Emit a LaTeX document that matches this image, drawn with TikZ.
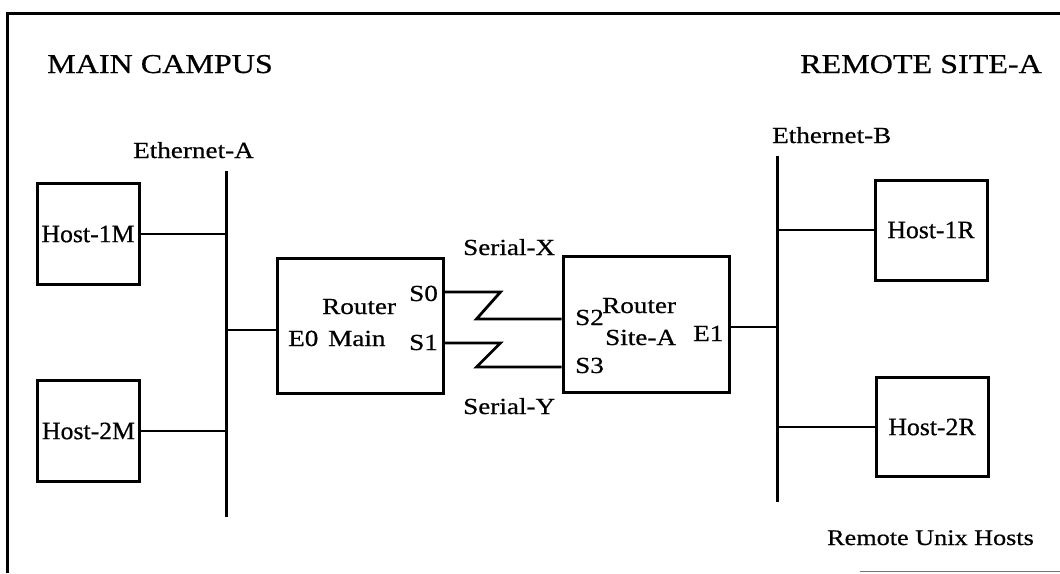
\documentclass[tikz,border=0pt]{standalone}
\usepackage{fontspec}
\setmainfont{Liberation Serif}[FakeStretch=1.18, FakeBold=0.6]
\newfontfamily\hostfont{Liberation Serif}[FakeStretch=1.03, FakeBold=0.6]
\begin{document}
\begin{tikzpicture}[x=1pt,y=-1pt,
  box/.style={draw, line width=3pt, inner sep=0pt},
  hostbox/.style={box, minimum width=102pt, minimum height=101pt, font=\hostfont\fontsize{25}{30}\selectfont},
  rbox/.style={box, minimum width=166pt, minimum height=135pt},
  bus/.style={line width=3pt},
  link/.style={line width=2.8pt},
  lbl/.style={inner sep=0pt, anchor=base west, font=\fontsize{23}{27}\selectfont},
  title/.style={inner sep=0pt, anchor=base west, font=\fontsize{27.2}{32}\selectfont},
  frame/.style={line width=3pt}]
\useasboundingbox (0,0) rectangle (1060,573);
% frame
\draw[frame] (7,573) -- (7,13) -- (1060,13);
\draw[line width=1.5pt, black!55] (860,571.5) -- (1060,571.5);
% titles
\node[title] (tmain) at (47,73) {MAIN CAMPUS};
\node[title] (tremote) at (800,73) {REMOTE SITE-A};
\node[lbl, font=\fontsize{22.2}{26}\selectfont] (tunix) at (827,545) {Remote Unix Hosts};
% ethernet buses
\coordinate (ethAtop) at (226,171);
\coordinate (ethAbot) at (226,517);
\coordinate (ethBtop) at (777,156);
\coordinate (ethBbot) at (777,502);
\draw[bus] (ethAtop) -- (ethAbot);
\draw[bus] (ethBtop) -- (ethBbot);
\node[lbl] (lethA) at (133,158) {Ethernet-A};
\node[lbl] (lethB) at (772,143) {Ethernet-B};
% hosts
\node[hostbox] (h1m) at (88,234) {Host-1M};
\node[hostbox] (h2m) at (88.5,431) {Host-2M};
\node[hostbox, minimum width=112pt, minimum height=100pt] (h1r) at (931,230) {Host-1R};
\node[hostbox, minimum width=112pt, minimum height=99pt] (h2r) at (932,427) {Host-2R};
\draw[link] (h1m.east) -- (h1m.east -| ethAtop);
\draw[link] (h2m.east) -- (h2m.east -| ethAtop);
\draw[link] (h1r.west) -- (h1r.west -| ethBtop);
\draw[link] (h2r.west) -- (h2r.west -| ethBtop);
% routers
\node[rbox] (rmain) at (360,325.5) {};
\node[rbox, minimum height=136pt] (rsite) at (646,324) {};
\draw[link] ([yshift=-4.5pt]rmain.west) -- ([yshift=-4.5pt]rmain.west -| ethAtop);
\draw[link] ([yshift=-3pt]rsite.east) -- ([yshift=-3pt]rsite.east -| ethBtop);
% serial links
\draw[link] ([yshift=33.5pt]rmain.east) -- ++(56,0) -- ++(-24,27) -- ([yshift=5pt]rsite.west);
\draw[link] ([yshift=-17.5pt]rmain.east) -- ++(56,0) -- ++(-24,24) -- ([yshift=-43pt]rsite.west);
\node[lbl] (lserx) at (463,255) {Serial-X};
\node[lbl] (lsery) at (463,414) {Serial-Y};
% router labels
\node[lbl] (lrm1) at (322,314) {Router};
\node[lbl] (lrm2) at (328,346) {Main};
\node[lbl] (le0) at (288,346) {E0};
\node[lbl] (ls0) at (409,301) {S0};
\node[lbl] (ls1) at (409,350) {S1};
\node[lbl] (lrs1) at (602,313) {Router};
\node[lbl] (lrs2) at (605,345) {Site-A};
\node[lbl] (ls2) at (575,325) {S2};
\node[lbl] (ls3) at (575,373) {S3};
\node[lbl] (le1) at (693,341) {E1};
\end{tikzpicture}
\end{document}
